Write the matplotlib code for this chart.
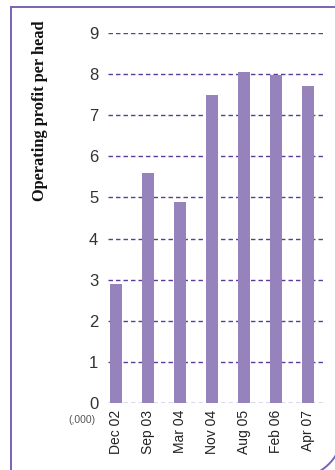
import numpy as np
import matplotlib
matplotlib.use("Agg")
import matplotlib.pyplot as plt
from matplotlib.lines import Line2D

periods = ["Dec 02", "Sep 03", "Mar 04", "Nov 04", "Aug 05", "Feb 06", "Apr 07"]
profit_per_head = [2.9, 5.6, 4.9, 7.5, 8.05, 7.98, 7.72]
y_ticks = [0, 1, 2, 3, 4, 5, 6, 7, 8, 9]

W, H = 335, 470
BAR = "#9683bc"
GRID = "#5b3c9a"
FRAME = "#7a62b6"

plt.rcParams["font.family"] = ["Liberation Sans", "DejaVu Sans"]

fig = plt.figure(figsize=(W / 100, H / 100), dpi=100)
fig.patch.set_facecolor("white")

ax = fig.add_axes([108 / W, (H - 403) / H, (325 - 108) / W, (403 - 33) / H])
x = np.arange(len(periods))

for v in y_ticks:
    ax.axhline(v, color=GRID, lw=1.0, linestyle=(0, (3.2, 2.2)), zorder=1)

ax.bar(x, profit_per_head, width=0.375, color=BAR, zorder=2)

ax.set_xlim(-0.25, 6.53)
ax.set_ylim(0, 9)
ax.set_yticks(y_ticks)
ax.set_yticklabels([str(v) for v in y_ticks], fontsize=12, color="#333333")
ax.set_xticks(x)
ax.set_xticklabels(periods, rotation=90, fontsize=10, color="#222222")
ax.tick_params(axis="both", length=0)
ax.tick_params(axis="y", pad=7)
ax.tick_params(axis="x", pad=5)
for s in ax.spines.values():
    s.set_visible(False)

# Units note under the value axis
fig.text(82 / W, (H - 420) / H, "(,000)", fontsize=7.5, color="#555555",
         ha="center", va="center")

# Axis title in a bold serif face
fig.text(40 / W, (H - 20) / H, "Operating profit per head", rotation=90,
         fontsize=11.8, fontweight="bold", family="Liberation Serif",
         color="#111111", ha="center", va="top")

# Frame: left and top edges plus the curled bottom-right corner
fig.add_artist(Line2D([11 / W, 11 / W], [0, (H - 7) / H], color=FRAME, lw=1.4,
                      transform=fig.transFigure))
fig.add_artist(Line2D([11 / W, 1.0], [(H - 7) / H, (H - 7) / H], color=FRAME,
                      lw=1.4, transform=fig.transFigure))
t = np.linspace(np.radians(-70), np.radians(-30), 40)
cx, cy, r = 295, 430, 48
arc_x = cx + r * np.cos(t)
arc_y = cy - r * np.sin(t)
fig.add_artist(Line2D(arc_x / W, (H - arc_y) / H, color=FRAME, lw=1.4,
                      transform=fig.transFigure))

fig.savefig("out.png", dpi=100, facecolor="white")
